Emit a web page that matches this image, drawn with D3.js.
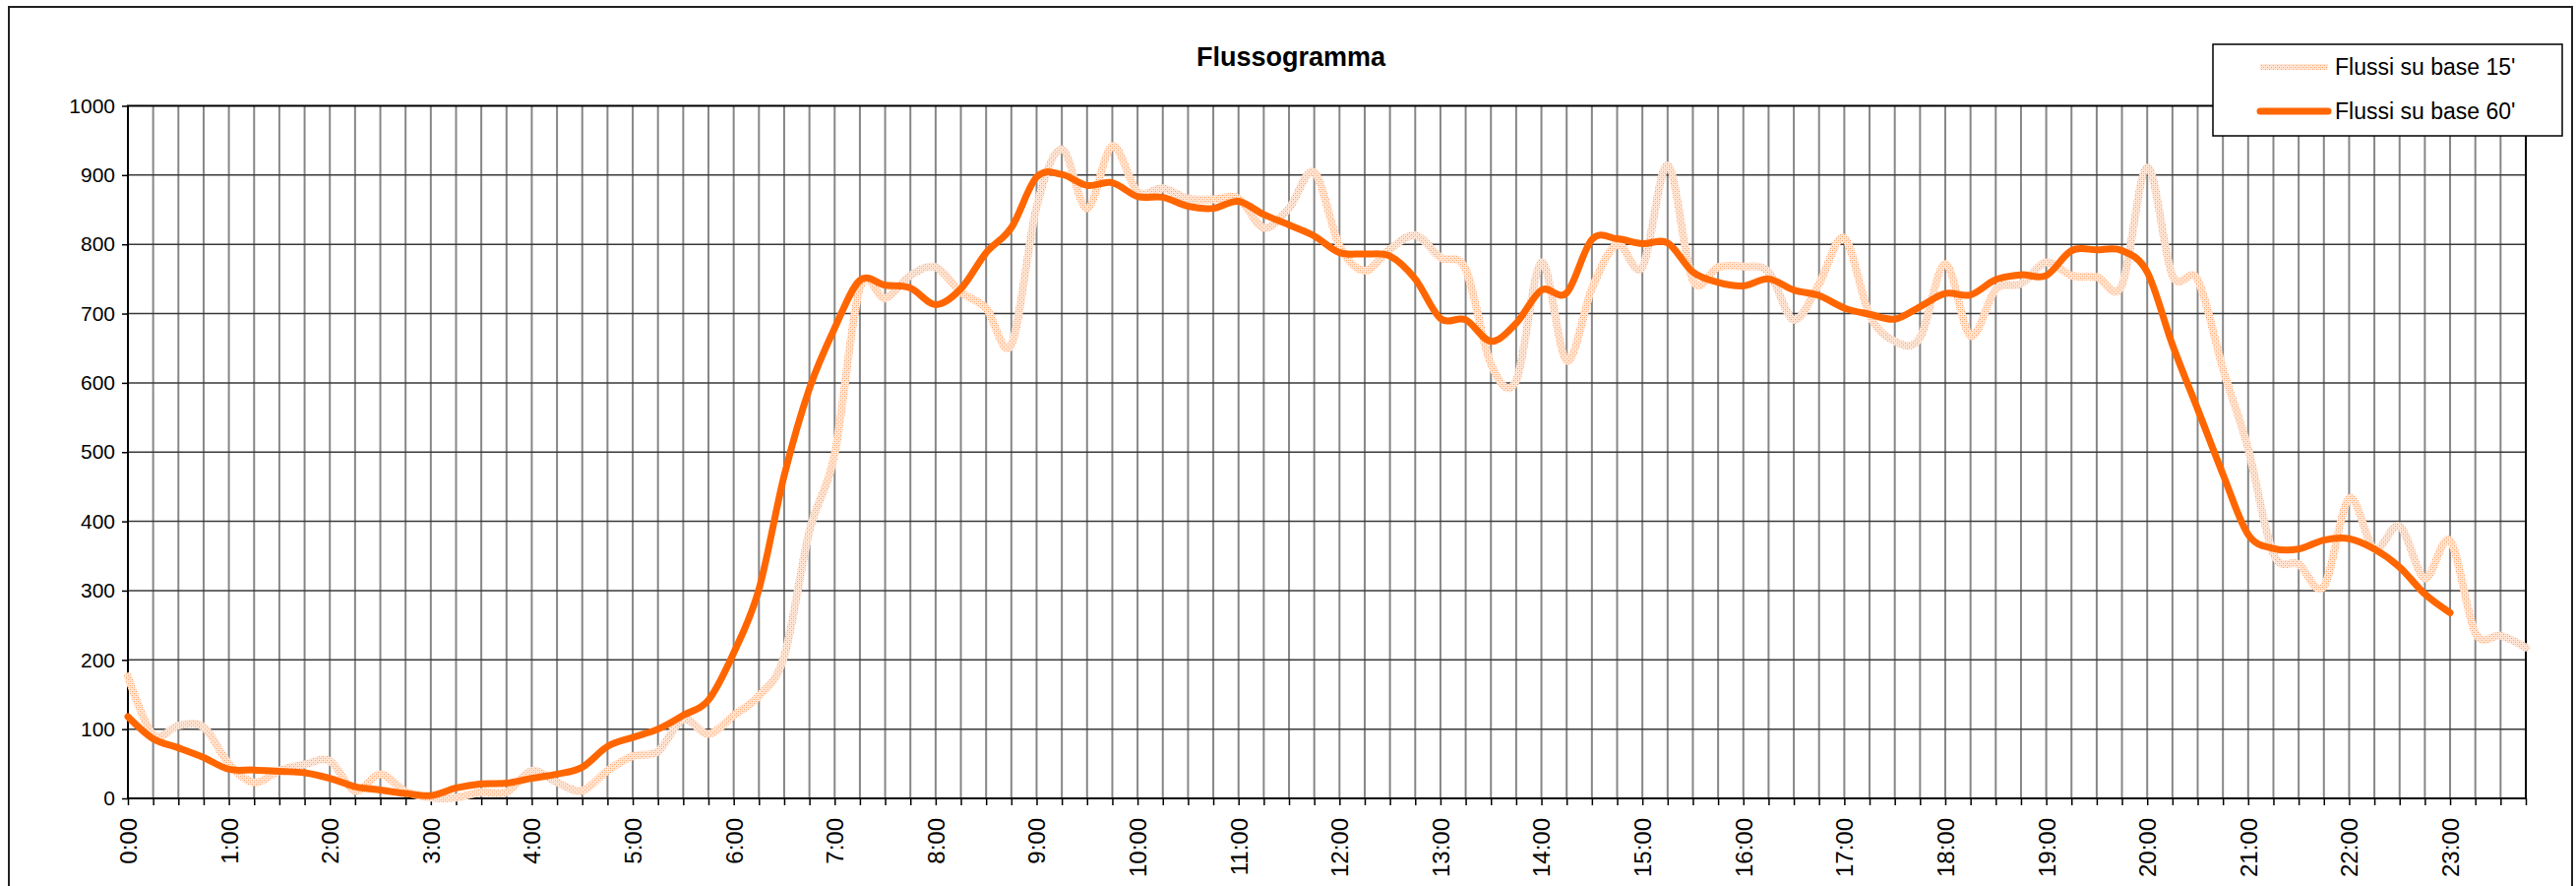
<!DOCTYPE html>
<html>
<head>
<meta charset="utf-8">
<script src="https://cdn.jsdelivr.net/npm/d3@7"></script>
<style>
  body { margin: 0; background: #fff; }
  svg text { font-family: "Liberation Sans", Arial, sans-serif; fill: #000; }
</style>
</head>
<body>
<div id="chart"></div>
<script>
// quarter-hour categories 0:00 .. 23:45
var times = d3.range(96).map(function (i) {
  return Math.floor(i / 4) + ":" + (i % 4 === 0 ? "00" : String((i % 4) * 15));
});

// Flussi su base 15'
var flow15 = [176, 92, 105, 103, 50, 23, 40, 49, 54, 11, 35, 10, 1, 1, 9, 9,
  40, 23, 11, 40, 61, 68, 114, 93, 120, 148, 205, 386, 497, 737, 722, 755,
  767, 731, 708, 655, 854, 937, 852, 942, 876, 881, 866, 865, 866, 824, 852, 904,
  798, 762, 793, 813, 781, 764, 627, 603, 774, 632, 736, 800, 767, 914, 748, 767,
  768, 760, 691, 743, 809, 698, 660, 665, 772, 668, 735, 743, 774, 755, 753, 741,
  911, 755, 749, 620, 505, 353, 338, 306, 433, 360, 393, 318, 372, 239, 235, 218];

// Flussi su base 60' (ends at 23:00)
var flow60 = [118, 86, 73, 59, 42, 41, 39, 37, 29, 17, 12, 7, 4, 15, 21, 22,
  29, 35, 45, 75, 88, 100, 120, 142, 210, 302, 466, 592, 679, 748, 741, 737,
  713, 736, 788, 824, 897, 901, 885, 889, 869, 868, 855, 852, 862, 843, 828, 812,
  788, 786, 783, 750, 693, 691, 660, 686, 734, 730, 807, 808, 801, 802, 760, 745,
  740, 750, 734, 726, 708, 699, 692, 710, 729, 727, 749, 756, 755, 791, 792, 791,
  760, 655, 562, 468, 381, 361, 360, 373, 375, 360, 334, 295, 268];

var yTicks = [0, 100, 200, 300, 400, 500, 600, 700, 800, 900, 1000];
var seriesNames = ["Flussi su base 15'", "Flussi su base 60'"];

var W = 2618, H = 900;
var plotL = 130, plotR = 2567, plotT = 107.5, plotB = 811;

var svg = d3.select("#chart").append("svg")
  .attr("width", W).attr("height", H);

// pattern for the pale dotted 15' line
var pat = svg.append("defs").append("pattern")
  .attr("id", "pale").attr("patternUnits", "userSpaceOnUse")
  .attr("width", 4).attr("height", 4);
pat.append("rect").attr("width", 4).attr("height", 4).attr("fill", "#ffe6d6");
[[0, 0, "#ffa468"], [2, 2, "#ffa468"], [2, 0, "#ffcfae"], [0, 2, "#ffcfae"]].forEach(function (p) {
  pat.append("rect").attr("x", p[0]).attr("y", p[1]).attr("width", 1).attr("height", 1).attr("fill", p[2]);
});

// outer chart border
svg.append("rect").attr("x", 9).attr("y", 7).attr("width", 2605).attr("height", 900)
  .attr("fill", "#fff").attr("stroke", "#222").attr("stroke-width", 2);

var x = d3.scalePoint().domain(times).range([plotL, plotR]).padding(0);
var y = d3.scaleLinear().domain([0, 1000]).range([plotB, plotT]);

// gridlines
svg.append("g").selectAll("line").data(times.slice(1, -1)).enter().append("line")
  .attr("x1", function (d) { return x(d); }).attr("x2", function (d) { return x(d); })
  .attr("y1", plotT).attr("y2", plotB)
  .attr("stroke", "#878787").attr("stroke-width", 2);
svg.append("g").selectAll("line").data(yTicks.slice(1, -1)).enter().append("line")
  .attr("x1", plotL).attr("x2", plotR)
  .attr("y1", function (d) { return y(d); }).attr("y2", function (d) { return y(d); })
  .attr("stroke", "#3a3a3a").attr("stroke-width", 1.5);

// frame
svg.append("rect").attr("x", plotL).attr("y", plotT)
  .attr("width", plotR - plotL).attr("height", plotB - plotT)
  .attr("fill", "none").attr("stroke", "#000").attr("stroke-width", 2);

// x axis
var xAxis = svg.append("g").attr("transform", "translate(0," + plotB + ")")
  .call(d3.axisBottom(x).tickSize(7).tickFormat(function (d) { return d.slice(-3) === ":00" ? d : ""; }));
xAxis.select(".domain").remove();
xAxis.selectAll(".tick line").attr("stroke", "#000").attr("stroke-width", 1.5);
xAxis.selectAll(".tick text")
  .attr("transform", "rotate(-90)")
  .attr("x", -20).attr("y", 0).attr("dy", "0.35em")
  .style("text-anchor", "end")
  .style("font-size", "24px");

// y axis
var yAxis = svg.append("g").attr("transform", "translate(" + plotL + ",0)")
  .call(d3.axisLeft(y).tickValues(yTicks).tickFormat(d3.format("d")).tickSize(6).tickPadding(7));
yAxis.select(".domain").remove();
yAxis.selectAll(".tick line").attr("stroke", "#000").attr("stroke-width", 1.5);
yAxis.selectAll(".tick text").style("font-size", "21px");

// series
var line = d3.line()
  .x(function (d, i) { return x(times[i]); })
  .y(function (d) { return y(d); })
  .curve(d3.curveCardinal.tension(0));

svg.append("path").datum(flow15).attr("d", line)
  .attr("fill", "none").attr("stroke", "url(#pale)").attr("stroke-width", 8)
  .attr("stroke-linejoin", "round").attr("stroke-linecap", "round");
svg.append("path").datum(flow60).attr("d", line)
  .attr("fill", "none").attr("stroke", "#ff6600").attr("stroke-width", 7)
  .attr("stroke-linejoin", "round").attr("stroke-linecap", "round");

// title
svg.append("text").attr("x", 1312).attr("y", 67)
  .attr("text-anchor", "middle")
  .style("font-size", "27px").style("font-weight", "bold")
  .text("Flussogramma");

// legend
var lg = svg.append("g");
lg.append("rect").attr("x", 2249).attr("y", 45).attr("width", 355).attr("height", 93)
  .attr("fill", "#fff").attr("stroke", "#000").attr("stroke-width", 1.5);
var legendRows = lg.selectAll("g.row").data(seriesNames).enter().append("g")
  .attr("class", "row")
  .attr("transform", function (d, i) { return "translate(0," + (68 + i * 45) + ")"; });
legendRows.append("line")
  .attr("x1", 2297).attr("x2", 2366).attr("y1", 0).attr("y2", 0)
  .attr("stroke", function (d, i) { return i === 0 ? "url(#pale)" : "#ff6600"; })
  .attr("stroke-width", function (d, i) { return i === 0 ? 6 : 7; })
  .attr("stroke-linecap", function (d, i) { return i === 0 ? "butt" : "round"; });
legendRows.append("text")
  .attr("x", 2373).attr("y", 0).attr("dy", "0.35em")
  .style("font-size", "23px")
  .text(function (d) { return d; });
</script>
</body>
</html>
